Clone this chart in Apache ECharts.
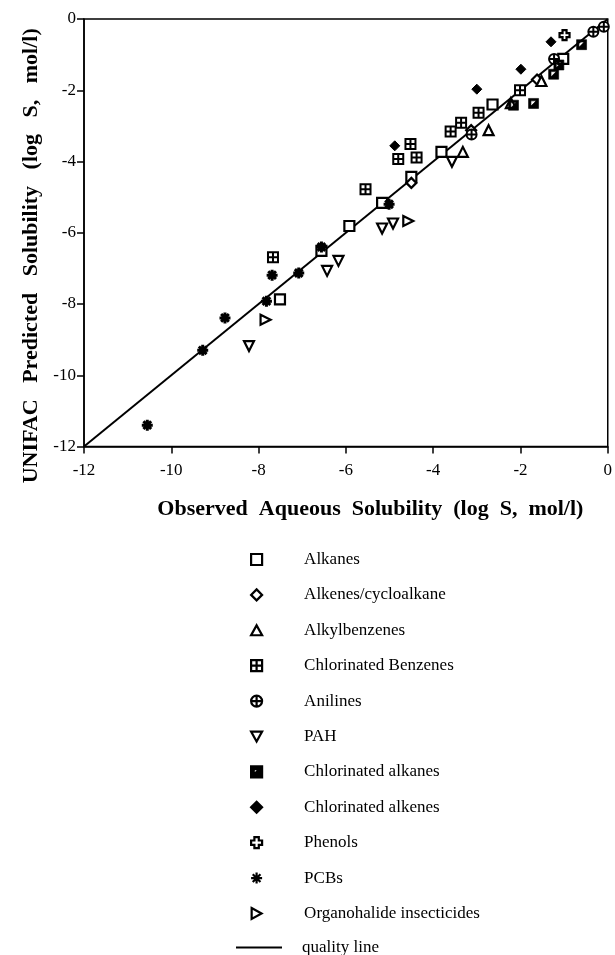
<!DOCTYPE html>
<html>
<head>
<meta charset="utf-8">
<script src="https://cdn.jsdelivr.net/npm/echarts@6/dist/echarts.min.js"></script>
<style>
  html, body { margin: 0; padding: 0; background: #fff; }
  #main { width: 615px; height: 955px; }
</style>
</head>
<body>
<div id="main"></div>
<script>
// [observed log S, UNIFAC predicted log S]
var alkanes = [[-1.02, -1.12], [-2.64, -2.40], [-3.81, -3.73], [-4.50, -4.43], [-5.17, -5.16], [-5.92, -5.81], [-6.56, -6.51], [-7.51, -7.87]];
var alkenes = [[-1.62, -1.70], [-3.13, -3.12], [-4.50, -4.60]];
var alkylbenzenes = [[-1.52, -1.74], [-2.22, -2.36], [-2.73, -3.12], [-3.32, -3.73]];
var chlorBenzenes = [[-2.01, -2.00], [-2.96, -2.63], [-3.36, -2.91], [-3.60, -3.16], [-4.52, -3.51], [-4.80, -3.93], [-4.38, -3.89], [-5.55, -4.78], [-7.67, -6.69]];
var anilines = [[-0.09, -0.22], [-0.33, -0.36], [-1.23, -1.12], [-3.12, -3.24]];
var pah = [[-3.57, -4.01], [-5.17, -5.88], [-4.92, -5.74], [-6.17, -6.79], [-6.43, -7.07], [-8.22, -9.18]];
var chlorAlkanes = [[-0.60, -0.72], [-1.12, -1.29], [-1.24, -1.55], [-1.70, -2.37], [-2.16, -2.42]];
var chlorAlkenes = [[-1.30, -0.64], [-1.99, -1.41], [-3.00, -1.97], [-4.88, -3.56]];
var phenols = [[-0.99, -0.45]];
var pcbs = [[-5.01, -5.20], [-6.56, -6.40], [-7.08, -7.13], [-7.69, -7.19], [-7.82, -7.92], [-8.77, -8.39], [-9.28, -9.30], [-10.55, -11.40]];
var organohalides = [[-4.57, -5.67], [-7.84, -8.44]];
var qualityLine = [[-12, -12], [0, 0]];

var groupNames = ['Alkanes', 'Alkenes/cycloalkane', 'Alkylbenzenes', 'Chlorinated Benzenes', 'Anilines', 'PAH',
  'Chlorinated alkanes', 'Chlorinated alkenes', 'Phenols', 'PCBs', 'Organohalide insecticides'];
var lineName = 'quality line';

var FONT = 'Liberation Serif';

// symbol shapes (all paths so the legend keeps their aspect)
var SYM_SQUARE = 'path://M0,0L10,0L10,10L0,10Z';
var SYM_DIAMOND = 'path://M5,0L10,5L5,10L0,5Z';
var SYM_TRI = 'path://M5,0L10,9L0,9Z';
var SYM_BOXPLUS = 'path://M0,0L10,0L10,10L0,10Z M5,0L5,10 M0,5L10,5';
var SYM_CIRCPLUS = 'path://M0,5A5,5,0,1,1,10,5A5,5,0,1,1,0,5Z M5,0L5,10 M0,5L10,5';
var SYM_DOWNTRI = 'path://M0,0L10,0L5,9Z';
var SYM_RIGHTTRI = 'path://M0,0L9,5L0,10Z';
var SYM_HALFSQ = 'path://M0,0L10,0L10,10L0,10Z M2.4,2.4L2.4,7.6L7.6,7.6L7.6,2.4Z M7.6,2.4L7.6,7.6L2.4,7.6Z';
var SYM_CROSS = 'path://M3,0L7,0L7,3L10,3L10,7L7,7L7,10L3,10L3,7L0,7L0,3L3,3Z';
var SYM_STAR = 'path://M5,0L5,10 M0,5L10,5 M1.5,1.5L8.5,8.5 M8.5,1.5L1.5,8.5';

function scatter(name, data, symbol, fill, bw, size) {
  return {
    name: name,
    type: 'scatter',
    data: data,
    symbol: symbol,
    symbolSize: size || 10,
    itemStyle: { color: fill, borderColor: '#000', borderWidth: bw, opacity: 1 },
    emphasis: { disabled: true },
    z: 3
  };
}

var chart = echarts.init(document.getElementById('main'), null, { renderer: 'canvas' });

var legendText = { fontFamily: FONT, fontSize: 17, color: '#000' };

var option = {
  backgroundColor: '#fff',
  animation: false,
  grid: {
    left: 84, right: 3.5, top: 19, bottom: 508.5,
    show: true, borderColor: '#000', borderWidth: 1.5, backgroundColor: 'transparent'
  },
  xAxis: {
    type: 'value', min: -12, max: 0, interval: 2,
    name: 'Observed  Aqueous  Solubility  (log  S,  mol/l)',
    nameLocation: 'middle', nameGap: 52,
    nameTextStyle: { fontFamily: FONT, fontSize: 22, fontWeight: 'bold', color: '#000', padding: [0, 0, 0, 49] },
    axisLine: { onZero: false, lineStyle: { color: '#000', width: 1.5 } },
    axisTick: { inside: false, length: 7, lineStyle: { color: '#000', width: 1.5 } },
    axisLabel: { fontFamily: FONT, fontSize: 17, color: '#000', margin: 16 },
    splitLine: { show: false }
  },
  yAxis: {
    type: 'value', min: -12, max: 0, interval: 2,
    name: 'UNIFAC   Predicted   Solubility   (log   S,   mol/l)',
    nameLocation: 'middle', nameGap: 41,
    nameTextStyle: { fontFamily: FONT, fontSize: 22, fontWeight: 'bold', color: '#000', padding: [0, 46, 0, 0] },
    axisLine: { onZero: false, lineStyle: { color: '#000', width: 1.5 } },
    axisTick: { inside: false, length: 7, lineStyle: { color: '#000', width: 1.5 } },
    axisLabel: { fontFamily: FONT, fontSize: 17, color: '#000', margin: 8 },
    splitLine: { show: false }
  },
  legend: [
    {
      orient: 'vertical',
      left: 250, top: 551,
      padding: 0,
      itemWidth: 11, itemHeight: 11, itemGap: 18.4,
      data: groupNames,
      itemStyle: { borderWidth: 2.2 },
      textStyle: Object.assign({ padding: [0, 0, 0, 37] }, legendText),
      selectedMode: false
    },
    {
      orient: 'vertical',
      left: 236, top: 939,
      padding: 0,
      itemWidth: 46, itemHeight: 11,
      data: [{ name: lineName, icon: 'path://M0,0L46,0L46,1.8L0,1.8Z' }],
      textStyle: Object.assign({ padding: [0, 0, 0, 15] }, legendText),
      selectedMode: false
    }
  ],
  series: [
    {
      name: lineName,
      type: 'line',
      data: qualityLine,
      symbol: 'none',
      lineStyle: { color: '#000', width: 2 },
      itemStyle: { color: '#000' },
      silent: true,
      z: 2
    },
    scatter('Alkanes', alkanes, SYM_SQUARE, '#fff', 2.2),
    scatter('Alkenes/cycloalkane', alkenes, SYM_DIAMOND, '#fff', 2.2),
    scatter('Alkylbenzenes', alkylbenzenes, SYM_TRI, '#fff', 2.2),
    scatter('Chlorinated Benzenes', chlorBenzenes, SYM_BOXPLUS, '#fff', 2),
    scatter('Anilines', anilines, SYM_CIRCPLUS, '#fff', 2),
    scatter('PAH', pah, SYM_DOWNTRI, '#fff', 2.2),
    scatter('Chlorinated alkanes', chlorAlkanes, SYM_HALFSQ, '#000', 0.6),
    scatter('Chlorinated alkenes', chlorAlkenes, SYM_DIAMOND, '#000', 1),
    scatter('Phenols', phenols, SYM_CROSS, '#fff', 2.2),
    scatter('PCBs', pcbs, SYM_STAR, '#000', 3, 11),
    scatter('Organohalide insecticides', organohalides, SYM_RIGHTTRI, '#fff', 2.2)
  ]
};

chart.setOption(option);
</script>
</body>
</html>
